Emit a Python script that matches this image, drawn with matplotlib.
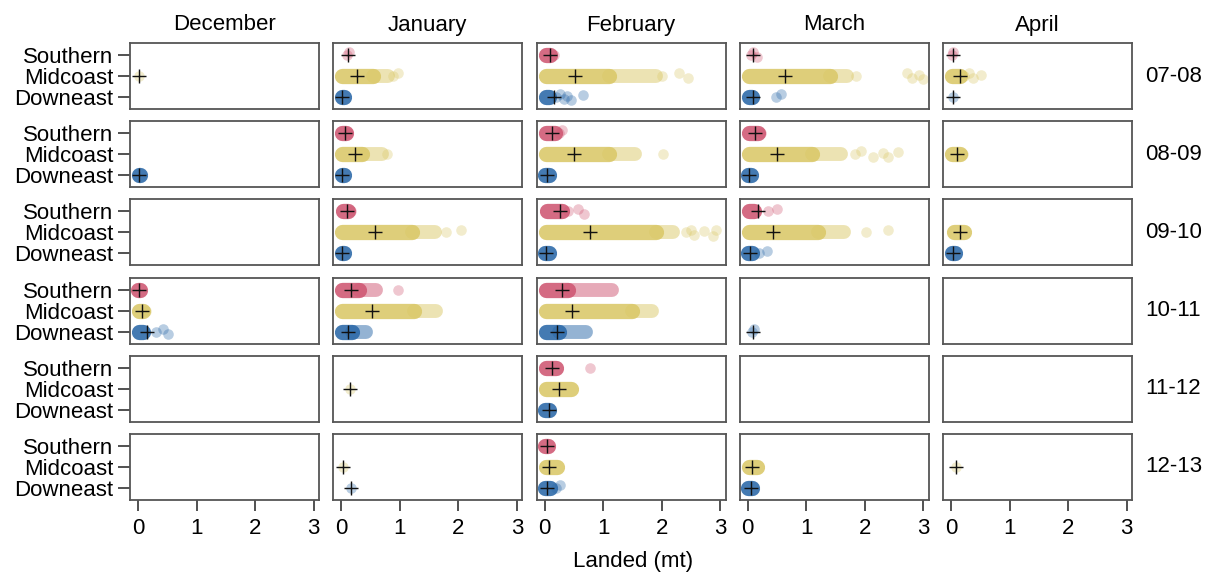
import matplotlib.pyplot as plt

plt.rcParams['font.family'] = ['Liberation Sans', 'DejaVu Sans']

seasons = ['07-08', '08-09', '09-10', '10-11', '11-12', '12-13']
months = ['December', 'January', 'February', 'March', 'April']
regions = ['Southern', 'Midcoast', 'Downeast']
colors = {'Southern': '#cf5672', 'Midcoast': '#dac868', 'Downeast': '#2a68a8'}

N = None
E = [N, N, N, N, N]

# mean landed per trip (black crosses); rows = seasons, cols = months
south_mean = [
    [N, 0.12, 0.09, 0.09, 0.03],
    [N, 0.07, 0.12, 0.12, N],
    [N, 0.09, 0.27, 0.17, N],
    [0.02, 0.17, 0.30, N, N],
    [N, N, 0.12, N, N],
    [N, N, 0.04, N, N],
]
mid_mean = [
    [0.02, 0.27, 0.52, 0.63, 0.15],
    [N, 0.24, 0.50, 0.50, 0.10],
    [N, 0.58, 0.77, 0.43, 0.15],
    [0.07, 0.52, 0.47, N, N],
    [N, 0.15, 0.24, N, N],
    [N, 0.03, 0.08, 0.08, 0.08],
]
down_mean = [
    [N, 0.02, 0.17, 0.09, 0.03],
    [0.02, 0.02, 0.04, 0.02, N],
    [N, 0.02, 0.03, 0.04, 0.04],
    [0.15, 0.12, 0.22, 0.09, N],
    [N, N, 0.07, N, N],
    [N, 0.17, 0.05, 0.06, N],
]

# range where trips overlap into a solid band
south_core = [
    [N, N, (0.02, 0.10), N, N],
    [N, (0.02, 0.08), (0.02, 0.18), (0.02, 0.18), N],
    [N, (0.03, 0.12), (0.05, 0.30), (0.02, 0.10), N],
    [(0.0, 0.03), (0.02, 0.30), (0.02, 0.40), N, N],
    [N, N, (0.02, 0.20), N, N],
    [N, N, (0.01, 0.06), N, N],
]
mid_core = [
    [N, (0.02, 0.55), (0.02, 1.10), (0.02, 1.40), (0.02, 0.15)],
    [N, (0.02, 0.35), (0.02, 1.10), (0.02, 1.10), (0.02, 0.15)],
    [N, (0.02, 1.20), (0.02, 1.90), (0.02, 1.20), (0.05, 0.22)],
    [(0.02, 0.08), (0.02, 1.25), (0.02, 1.50), N, N],
    [N, N, (0.02, 0.45), N, N],
    [N, N, (0.02, 0.22), (0.02, 0.15), N],
]
down_core = [
    [N, (0.01, 0.04), (0.02, 0.08), (0.02, 0.08), N],
    [(0.01, 0.03), (0.01, 0.04), (0.01, 0.07), (0.01, 0.05), N],
    [N, (0.01, 0.04), (0.01, 0.07), (0.01, 0.08), (0.01, 0.06)],
    [(0.01, 0.08), (0.02, 0.18), (0.02, 0.25), N, N],
    [N, N, (0.01, 0.08), N, N],
    [N, N, (0.01, 0.10), (0.01, 0.07), N],
]

# thinner tail of the band
south_fringe = [E, E, E, [N, (0.30, 0.60), (0.40, 1.15), N, N], E, E]
mid_fringe = [
    [N, (0.55, 0.80), (1.10, 1.90), (1.40, 1.70), N],
    [N, (0.35, 0.70), (1.10, 1.55), (1.10, 1.60), N],
    [N, (1.20, 1.60), (1.90, 2.20), (1.20, 1.65), N],
    [N, (1.25, 1.62), (1.50, 1.83), N, N],
    E, E,
]
down_fringe = [E, E, E, [N, (0.18, 0.42), (0.25, 0.70), N, N], E, E]

# single trips standing apart
south_pts = [
    [[], [0.10, 0.13], [0.16], [0.05, 0.09, 0.15], [0.02, 0.04]],
    [[], [0.12], [0.25, 0.30], [0.22], []],
    [[], [0.17], [0.40, 0.57, 0.68], [0.34, 0.50], []],
    [[], [0.97], [], [], []],
    [[], [], [0.78], [], []],
    [[], [], [], [], []],
]
mid_pts = [
    [[0.02], [0.88, 0.97], [2.00, 2.30, 2.45], [1.85, 2.72, 2.80, 2.93, 2.99], [0.22, 0.30, 0.38, 0.52]],
    [[], [0.78], [2.02], [1.83, 1.93, 2.14, 2.31, 2.39, 2.56], [0.20]],
    [[], [1.78, 2.05], [2.42, 2.50, 2.56, 2.73, 2.87, 2.93], [2.02, 2.39], []],
    [[0.14], [], [], [], []],
    [[], [0.15], [], [], []],
    [[], [0.03], [], [], [0.08]],
]
down_pts = [
    [[], [], [0.20, 0.26, 0.33, 0.38, 0.46, 0.65], [0.49, 0.57], [0.03]],
    [[], [], [], [], []],
    [[], [], [], [0.20, 0.32], []],
    [[0.30, 0.43, 0.52], [], [], [0.08, 0.10], []],
    [[], [], [], [], []],
    [[], [0.17], [0.20, 0.27], [], []],
]

means = {'Southern': south_mean, 'Midcoast': mid_mean, 'Downeast': down_mean}
cores = {'Southern': south_core, 'Midcoast': mid_core, 'Downeast': down_core}
fringes = {'Southern': south_fringe, 'Midcoast': mid_fringe, 'Downeast': down_fringe}
points = {'Southern': south_pts, 'Midcoast': mid_pts, 'Downeast': down_pts}
ypos = {'Southern': 3, 'Midcoast': 2, 'Downeast': 1}
jitter = [0.0, 0.13, -0.11, 0.07, -0.15, 0.10, -0.05]

W, H = 1213, 574
fig = plt.figure(figsize=(W / 100, H / 100), dpi=100)

for i, season in enumerate(seasons):
    for j, month in enumerate(months):
        left = 130 + j * 203.25
        top = 43 + i * 78.2
        ax = fig.add_axes([left / W, 1 - (top + 66) / H, 189 / W, 66 / H])

        for reg in regions:
            y = ypos[reg]
            c = colors[reg]
            core = cores[reg][i][j]
            if core is not None:
                ax.plot(core, [y, y], color=c, lw=11, alpha=0.88,
                        solid_capstyle='round', zorder=2)
            fr = fringes[reg][i][j]
            if fr is not None:
                ax.plot(fr, [y, y], color=c, lw=10, alpha=0.5,
                        solid_capstyle='round', zorder=1)
            pts = points[reg][i][j]
            if pts:
                ys = [y + jitter[k % len(jitter)] for k in range(len(pts))]
                ax.scatter(pts, ys, s=58, color=c, alpha=0.33, lw=0, zorder=2)
            m = means[reg][i][j]
            if m is not None:
                ax.plot(m, y, marker='+', ms=10, mew=1.0, color='#111111', zorder=3)

        ax.set_xlim(-0.137, 3.09)
        ax.set_ylim(0.43, 3.57)
        for sp in ax.spines.values():
            sp.set_color('#555555')
            sp.set_linewidth(1.3)

        if i == len(seasons) - 1:
            ax.set_xticks([0, 1, 2, 3])
            ax.tick_params(axis='x', direction='out', length=8, width=1.2,
                           color='#333333', labelsize=16, pad=5)
        else:
            ax.set_xticks([])
        if j == 0:
            ax.set_yticks([3, 2, 1])
            ax.set_yticklabels(regions)
            ax.tick_params(axis='y', direction='out', length=9, width=1.2,
                           color='#333333', labelsize=16, pad=3)
        else:
            ax.set_yticks([])

        if i == 0:
            ax.set_title(month, fontsize=16, pad=9)
        if j == len(months) - 1:
            ax.text(1.07, 0.5, season, transform=ax.transAxes, fontsize=16,
                    va='center', ha='left')

fig.text(633 / W, 1 - 562 / H, 'Landed (mt)', fontsize=16, ha='center', va='center')

fig.savefig('out.png', dpi=100)
